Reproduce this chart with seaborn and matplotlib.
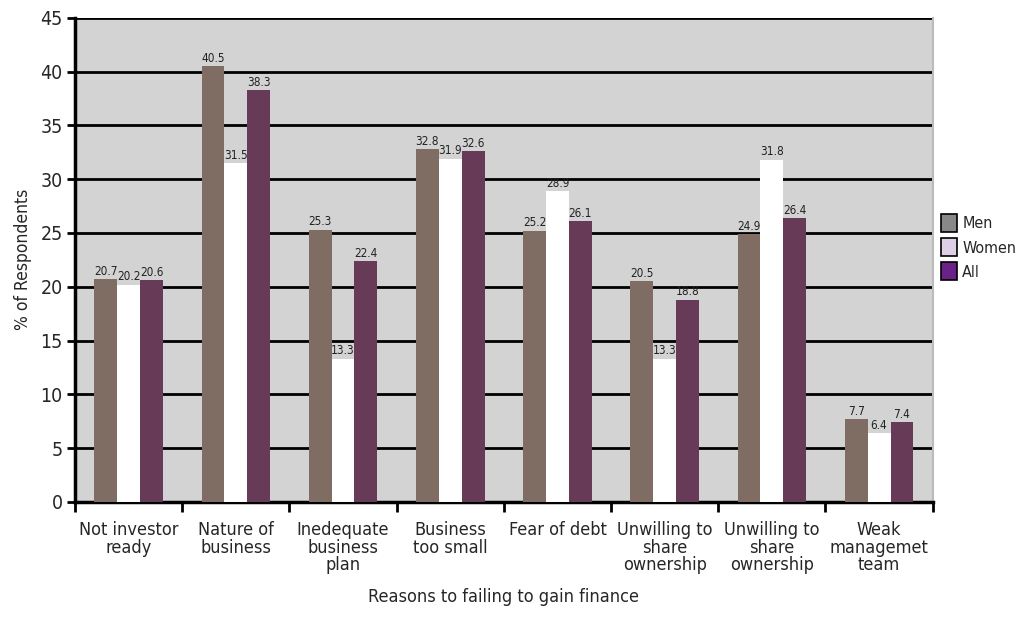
import numpy as np
import pandas as pd
import matplotlib
matplotlib.use("Agg")
import matplotlib.pyplot as plt
import seaborn as sns
from matplotlib.patches import Patch

categories = ["Not investor\nready", "Nature of\nbusiness", "Inedequate\nbusiness\nplan",
              "Business\ntoo small", "Fear of debt", "Unwilling to\nshare\nownership",
              "Unwilling to\nshare\nownership", "Weak\nmanagemet\nteam"]
men = [20.7, 40.5, 25.3, 32.8, 25.2, 20.5, 24.9, 7.7]
women = [20.2, 31.5, 13.3, 31.9, 28.9, 13.3, 31.8, 6.4]
all_resp = [20.6, 38.3, 22.4, 32.6, 26.1, 18.8, 26.4, 7.4]
groups = ["Men", "Women", "All"]

bar_colors = ["#7f6d64", "#ffffff", "#673a58"]
legend_colors = ["#888888", "#ddd0e6", "#6a2188"]

sns.set_style("white")
plt.rcParams["font.family"] = ["DejaVu Sans Condensed", "DejaVu Sans"]
plt.rcParams["font.stretch"] = "condensed"

rows = []
for i in range(len(categories)):
    for g, vals in zip(groups, [men, women, all_resp]):
        rows.append({"pos": i, "group": g, "value": vals[i]})
df = pd.DataFrame(rows)

fig = plt.figure(figsize=(10.21, 6.18), dpi=100)
ax = fig.add_axes([0.0735, 0.188, 0.84, 0.783])
ax.set_facecolor("#d3d3d3")

sns.barplot(data=df, x="pos", y="value", hue="group", palette=bar_colors,
            width=0.64, saturation=1, ax=ax, legend=False, zorder=3,
            edgecolor="none", linewidth=0)

for cont in ax.containers:
    ax.bar_label(cont, fmt="%.1f", padding=1, fontsize=8.5, color="#222222")

ax.set_ylim(0, 45)
ax.set_xlim(-0.5, 7.5)
ax.set_yticks(np.arange(0, 46, 5))
ax.yaxis.grid(True, color="black", linewidth=2, zorder=1)
ax.set_axisbelow(True)
ax.tick_params(axis="y", labelsize=14, length=6, width=2, color="black", direction="out", left=True, pad=3)

ax.set_xticks(range(len(categories)))
ax.set_xticklabels(categories, fontsize=13, linespacing=0.95)
ax.tick_params(axis="x", length=0, pad=14)
ax.set_xticks(np.arange(-0.5, 8, 1), minor=True)
ax.tick_params(axis="x", which="minor", length=7, width=2, color="black", direction="out", bottom=True)

for s in ["left", "bottom"]:
    ax.spines[s].set_color("black")
    ax.spines[s].set_linewidth(2.5)
ax.spines["right"].set_color("#bbbbbb")
ax.spines["right"].set_linewidth(1.5)
ax.spines["top"].set_visible(False)

ax.set_xlabel("Reasons to failing to gain finance", fontsize=13, labelpad=10)
ax.set_ylabel("% of Respondents", fontsize=12.5, labelpad=6)

handles = [Patch(facecolor=c, edgecolor="black", linewidth=1.2, label=g)
           for c, g in zip(legend_colors, groups)]
fig.legend(handles=handles, loc="center left", bbox_to_anchor=(0.922, 0.60),
           frameon=False, fontsize=11.5, handlelength=1.0, handleheight=1.4,
           handletextpad=0.3, labelspacing=0.35, borderpad=0, borderaxespad=0)

fig.savefig("out.png", dpi=100)
